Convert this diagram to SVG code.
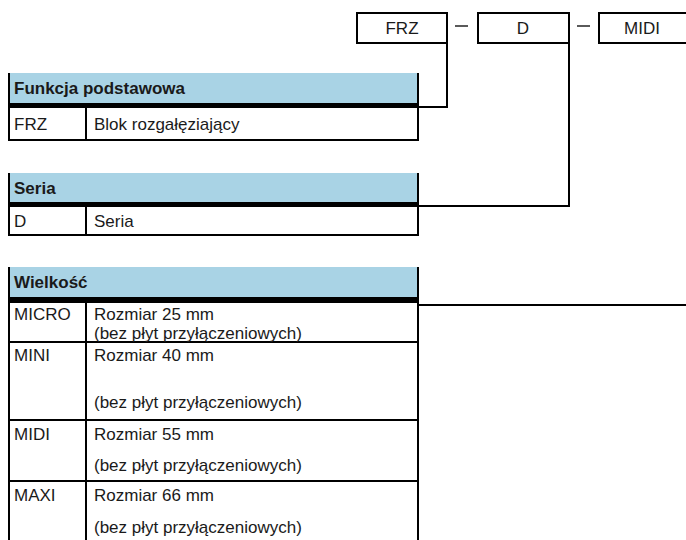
<svg xmlns="http://www.w3.org/2000/svg" width="686" height="540" viewBox="0 0 686 540">
<style>
.t{font-family:"Liberation Sans",Arial,sans-serif;font-size:17px;fill:#1a1a1a}
.b{font-weight:bold}
.m{text-anchor:middle}
.hd{fill:#a9d3e5}
.band{fill:#000}
.ln{fill:none;stroke:#000;stroke-width:2}
.dash{fill:none;stroke:#000;stroke-width:1.3}
</style>
<rect width="686" height="540" fill="#fff"/>
<g id="connectors">
<path class="ln" d="M447,43 V107 H418"/>
<path class="ln" d="M569,43 V206 H418"/>
<path class="ln" d="M686,305 H418"/>
<path class="dash" d="M455,26 H468"/>
<path class="dash" d="M577,26 H590"/>
</g>
<g id="code-frz">
<rect class="ln" x="357" y="13" width="90" height="30"/>
<text class="t m" x="402" y="34">FRZ</text>
</g>
<g id="code-d">
<rect class="ln" x="478" y="13" width="91" height="30"/>
<text class="t m" x="523" y="34">D</text>
</g>
<g id="code-midi">
<rect class="ln" x="599" y="13" width="90" height="30"/>
<text class="t m" x="642" y="34">MIDI</text>
</g>
<g id="table-funkcja">
<rect class="hd" x="9" y="73" width="409" height="30"/>
<rect class="band" x="8" y="103" width="411" height="5"/>
<path class="ln" d="M9,73 V140 H418 V73 M86,108 V140"/>
<text class="t b" x="14" y="94">Funkcja podstawowa</text>
<text class="t" x="14" y="130">FRZ</text>
<text class="t" x="94" y="130">Blok rozgałęziający</text>
</g>
<g id="table-seria">
<rect class="hd" x="9" y="173" width="409" height="29"/>
<rect class="band" x="8" y="202" width="411" height="5"/>
<path class="ln" d="M9,173 V235 H418 V173 M86,207 V235"/>
<text class="t b" x="14" y="194">Seria</text>
<text class="t" x="14" y="227">D</text>
<text class="t" x="94" y="227">Seria</text>
</g>
<g id="table-wielkosc">
<rect class="hd" x="9" y="267" width="409" height="30"/>
<rect class="band" x="8" y="297" width="411" height="6"/>
<path class="ln" d="M9,267 V541 M418,267 V541 M86,303 V541 M9,342 H418 M9,420 H418 M9,481 H418"/>
<text class="t b" x="14" y="288">Wielkość</text>
<text class="t" x="14" y="320">MICRO</text>
<text class="t" x="94" y="320">Rozmiar 25 mm</text>
<text class="t" x="94" y="339">(bez płyt przyłączeniowych)</text>
<text class="t" x="14" y="361">MINI</text>
<text class="t" x="94" y="361">Rozmiar 40 mm</text>
<text class="t" x="94" y="408">(bez płyt przyłączeniowych)</text>
<text class="t" x="14" y="440">MIDI</text>
<text class="t" x="94" y="440">Rozmiar 55 mm</text>
<text class="t" x="94" y="471">(bez płyt przyłączeniowych)</text>
<text class="t" x="14" y="501">MAXI</text>
<text class="t" x="94" y="501">Rozmiar 66 mm</text>
<text class="t" x="94" y="533">(bez płyt przyłączeniowych)</text>
</g>
</svg>
